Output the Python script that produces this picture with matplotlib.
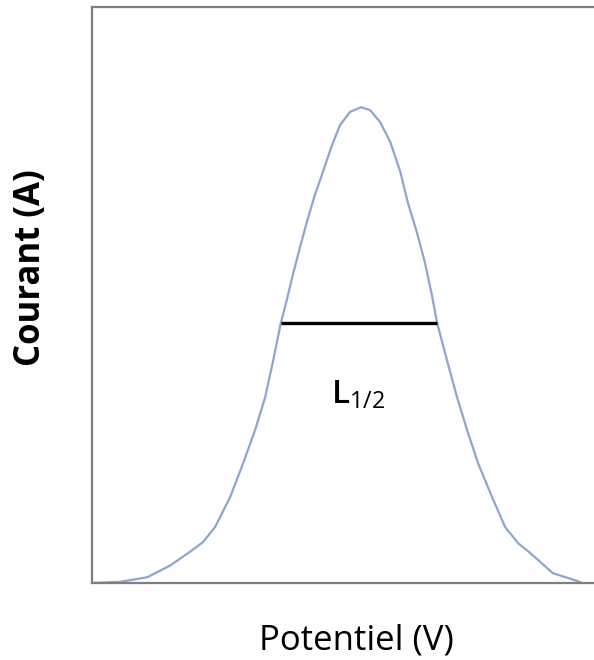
import matplotlib.pyplot as plt

plt.rcParams['font.family'] = ['Open Sans', 'DejaVu Sans']
plt.rcParams['mathtext.fontset'] = 'custom'
plt.rcParams['mathtext.rm'] = 'Open Sans'
plt.rcParams['mathtext.bf'] = 'Open Sans:semibold'

# points (arbitrary units, 0-10 on both axes)
potentiel = [0.00, 0.56, 1.10, 1.55, 1.95, 2.21, 2.45, 2.75, 3.01, 3.25,
             3.45, 3.61, 3.76, 3.87, 4.00, 4.14, 4.28, 4.44, 4.60, 4.78,
             4.94, 5.14, 5.36,
             5.54, 5.74, 5.94, 6.14, 6.29, 6.47, 6.63, 6.77, 6.87, 7.07,
             7.27, 7.47, 7.69, 7.97, 8.23, 8.49, 8.73, 9.18, 9.72]
courant = [0.00, 0.02, 0.10, 0.30, 0.54, 0.71, 0.97, 1.49, 2.08, 2.66,
           3.23, 3.87, 4.51, 4.88, 5.35, 5.82, 6.27, 6.74, 7.14, 7.60,
           7.95, 8.18, 8.26,
           8.21, 8.00, 7.66, 7.14, 6.61, 6.09, 5.57, 5.00, 4.53, 3.87,
           3.23, 2.66, 2.08, 1.49, 0.97, 0.69, 0.52, 0.17, 0.02]

# largeur a mi-hauteur
l_demi_x = [3.76, 6.87]
l_demi_y = [4.51, 4.51]

fig = plt.figure(figsize=(5.94, 6.6), dpi=100)
ax = fig.add_axes([0.155, 0.1167, 0.845, 0.8727])

ax.plot(potentiel, courant, color='#8fa6cc', linewidth=1.6)
ax.plot(l_demi_x, l_demi_y, color='black', linewidth=2.4, solid_capstyle='butt')
ax.text(5.3, 3.26, r'$\mathbf{L}_{\mathregular{1/2}}$', fontsize=24,
        ha='center', va='center')

ax.set_xlim(0, 10)
ax.set_ylim(0, 10)
ax.set_xticks([])
ax.set_yticks([])
ax.spines['right'].set_visible(False)
for s in ['left', 'top', 'bottom']:
    ax.spines[s].set_color('#7f7f7f')
    ax.spines[s].set_linewidth(1.6)

ax.set_xlabel('Potentiel (V)', fontsize=25)
ax.set_ylabel('Courant (A)', fontsize=25, fontweight='bold')
ax.xaxis.set_label_coords(0.526, -0.07)
ax.yaxis.set_label_coords(-0.086, 0.547)

fig.savefig('out.png')
